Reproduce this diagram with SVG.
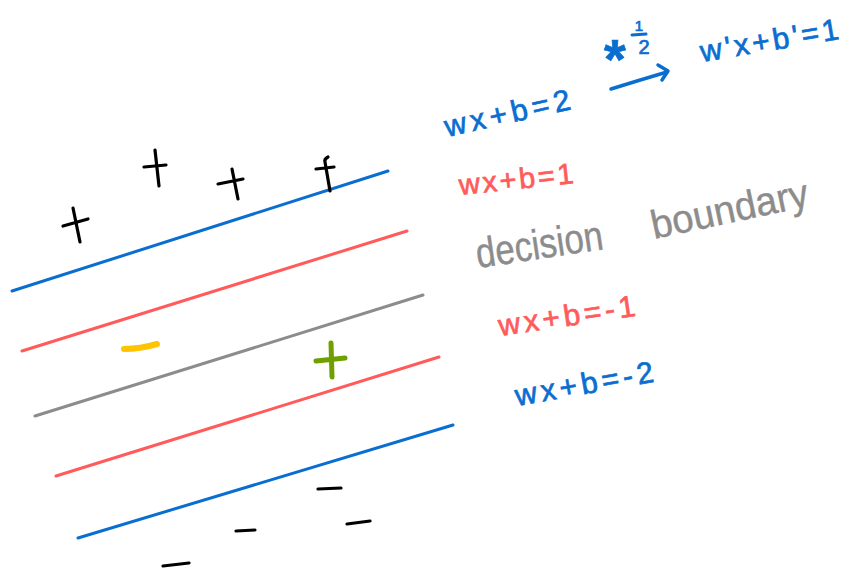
<svg xmlns="http://www.w3.org/2000/svg" width="855" height="572" viewBox="0 0 855 572">
<style>
.ln{fill:none;stroke-width:3;stroke-linecap:round}
.blue{stroke:#0A6ED1}
.red{stroke:#FF5B5B}
.gray{stroke:#8C8C8C}
.mk{fill:none;stroke:#000;stroke-width:3.2;stroke-linecap:round;stroke-linejoin:round}
.t{font-family:"Liberation Sans","DejaVu Sans",sans-serif;stroke-width:0.7}
.tb{fill:#0A6ED1;stroke:#0A6ED1}
.tr{fill:#FF5B5B;stroke:#FF5B5B}
.tg{fill:#8C8C8C;stroke:#8C8C8C;stroke-width:0.4}
</style>
<rect width="855" height="572" fill="#fff"/>
<g id="lines">
<line class="ln blue" x1="12" y1="291" x2="388" y2="171"/>
<line class="ln red" x1="22" y1="351" x2="407" y2="231"/>
<line class="ln gray" x1="35" y1="416" x2="423" y2="295"/>
<line class="ln red" x1="56" y1="476" x2="439" y2="357"/>
<line class="ln blue" x1="78" y1="538" x2="453" y2="425"/>
</g>
<g id="positive-points">
<path class="mk" d="M63,226 L88,219 M73,208 L80,242"/>
<path class="mk" d="M144,167 L166,165 M155,150 L159,186"/>
<path class="mk" d="M218,184 L243,179 M232,169 L238,199"/>
<path class="mk" d="M316,169 L334,167 M328,157 Q324,159 325,162 L330,191"/>
</g>
<g id="negative-points">
<path class="mk" d="M318,489 L341,488"/>
<path class="mk" d="M236,531 L255,530"/>
<path class="mk" d="M347,524 L370,521"/>
<path class="mk" d="M163,566 L189,563"/>
</g>
<g id="new-points">
<path d="M124,349 Q140,349 157,344" fill="none" stroke="#FFC400" stroke-width="6" stroke-linecap="round"/>
<path d="M316,361 L345,358 M331,343 L332,377" fill="none" stroke="#6FA000" stroke-width="5" stroke-linecap="round"/>
</g>
<g id="connectors">
<path d="M611,89 Q640,80 667,72" fill="none" stroke="#0A6ED1" stroke-width="3.5" stroke-linecap="round"/>
<path d="M658,65 L668,71 L662,80" fill="none" stroke="#0A6ED1" stroke-width="3.5" stroke-linecap="round" stroke-linejoin="round"/>
</g>
<g id="labels">
<text class="t tb" font-size="30" transform="translate(447,137) rotate(-12.6)" textLength="128" lengthAdjust="spacing">wx+b=2</text>
<text class="t tr" font-size="29" transform="translate(460,195) rotate(-6)" textLength="115" lengthAdjust="spacing">wx+b=1</text>
<text class="t tg" font-size="42" transform="translate(478,268) rotate(-8.5)" textLength="128" lengthAdjust="spacingAndGlyphs">decision</text>
<text class="t tg" font-size="40" transform="translate(654,239) rotate(-12)" textLength="160" lengthAdjust="spacingAndGlyphs">boundary</text>
<text class="t tr" font-size="30" transform="translate(500,336) rotate(-8.4)" textLength="138" lengthAdjust="spacing">wx+b=-1</text>
<text class="t tb" font-size="30" transform="translate(517,406) rotate(-10)" textLength="140" lengthAdjust="spacing">wx+b=-2</text>
<text class="t tb" font-size="30" transform="translate(702,62) rotate(-9.5)" textLength="140" lengthAdjust="spacing">w'x+b'=1</text>
<text class="t tb" font-size="56" font-weight="bold" x="615" y="78" text-anchor="middle">*</text>
<text class="t tb" font-size="15" x="639" y="31" text-anchor="middle">1</text>
<line x1="632" y1="35" x2="646" y2="34" stroke="#0A6ED1" stroke-width="3" stroke-linecap="round"/>
<text class="t tb" font-size="20" x="644" y="54" text-anchor="middle">2</text>
</g>
</svg>
